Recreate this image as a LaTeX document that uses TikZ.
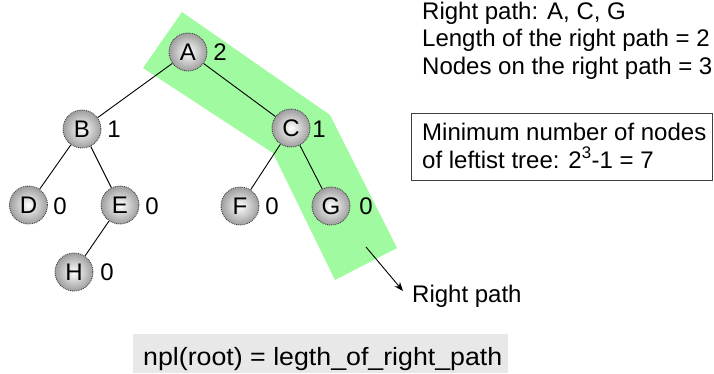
\documentclass[tikz,border=0pt]{standalone}
\usepackage{fontspec}
\setmainfont{Liberation Sans}
\usetikzlibrary{arrows.meta}
\definecolor{pathgreen}{RGB}{160,250,160}
\definecolor{boxgray}{RGB}{232,232,232}
\begin{document}
\begin{tikzpicture}[x=1pt,y=-1pt,
  tn/.style={circle, minimum size=38pt, inner sep=0pt, draw=black!75, densely dotted, line width=0.9pt,
    inner color=white, outer color=black!38, font=\fontsize{24}{28}\selectfont},
  lbl/.style={font=\fontsize{24}{28}\selectfont, inner sep=0pt},
  txt/.style={font=\fontsize{24}{28}\selectfont, inner sep=0pt, anchor=base west},
  edge/.style={black, line width=0.9pt}]
\useasboundingbox (0,0) rectangle (714,373);
% green right-path band
\fill[pathgreen] (182,12) -- (330,115) -- (397,248) -- (335,280) -- (273,153) -- (143,68) -- cycle;
% tree nodes
\node[tn] (A) at (188,52) {A};
\node[tn] (B) at (82,129) {B};
\node[tn] (C) at (291,128) {C};
\node[tn] (D) at (28.5,205) {D};
\node[tn] (E) at (120,205) {E};
\node[tn] (F) at (240,206) {F};
\node[tn] (G) at (331,206) {G};
\node[tn] (H) at (74,272) {H};
% edges
\draw[edge] (A) -- (B);
\draw[edge] (A) -- (C);
\draw[edge] (B) -- (D);
\draw[edge] (B) -- (E);
\draw[edge] (C) -- (F);
\draw[edge] (C) -- (G);
\draw[edge] (E) -- (H);
% npl labels
\node[lbl] (lA) at (220,52) {2};
\node[lbl] (lB) at (114,129) {1};
\node[lbl] (lC) at (319,129) {1};
\node[lbl] (lD) at (60,206) {0};
\node[lbl] (lE) at (152,206) {0};
\node[lbl] (lF) at (272,206) {0};
\node[lbl] (lG) at (366,206) {0};
\node[lbl] (lH) at (107,272) {0};
% arrow to "Right path"
\coordinate (as) at (366,247);
\coordinate (ae) at (403,291);
\draw[line width=0.9pt, -{Stealth[length=9pt,width=7pt]}] (as) -- (ae);
\node[txt] (rp) at (412,302) {Right path};
% top right text
\node[txt] (t1) at (422,19) {Right path: A, C, G};
\node[txt] (t2) at (422,46.5) {Length of the right path = 2};
\node[txt] (t3) at (422,74) {Nodes on the right path = 3};
% box
\node[draw=black!75, line width=1.3pt, minimum width=301pt, minimum height=67pt, inner sep=0pt] (box) at (562,147) {};
\node[txt] (b1) at (422,140) {Minimum number of nodes};
\node[txt] (b2) at (422,168) {of leftist tree: 2\textsuperscript{3}-1 = 7};
% bottom formula
\node[fill=boxgray, minimum width=375pt, minimum height=39pt, inner sep=0pt] (fb) at (320.5,353.5) {};
\node[txt, font=\fontsize{25}{30}\selectfont] (ft) at (143,365) {\scalebox{1.07}[1]{npl(root) = legth\_of\_right\_path}};
\end{tikzpicture}
\end{document}
